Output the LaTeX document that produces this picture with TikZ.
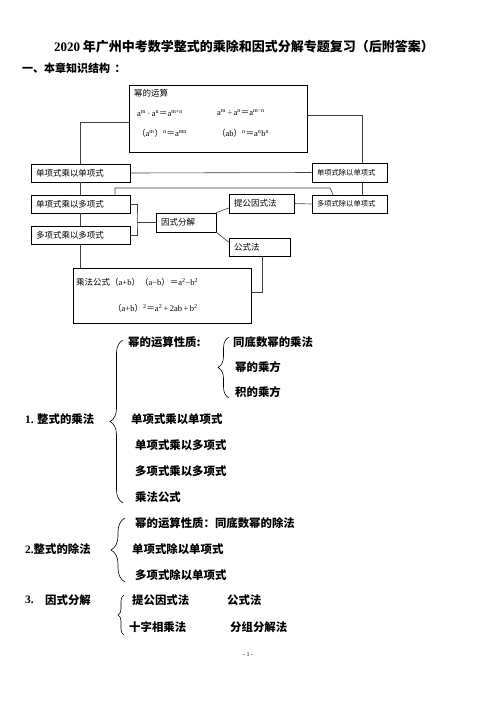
\documentclass[tikz,border=0pt]{standalone}
\usepackage{fontspec}
\setmainfont{Liberation Serif}
\newfontfamily\cjk{Noto Sans CJK SC}
\usetikzlibrary{decorations.pathreplacing}
\begin{document}
\begin{tikzpicture}[x=1pt,y=-1pt,
  bx/.style={draw=black,line width=0.7pt,inner xsep=5pt,inner ysep=0pt,align=left,font=\cjk\fontsize{8.5}{10}\selectfont,anchor=center},
  bxs/.style={bx,font=\cjk\fontsize{7.3}{9}\selectfont},
  bigbox/.style={draw=black,line width=0.7pt,inner sep=0pt,anchor=center},
  ln/.style={line width=0.6pt,black!75},
  ft/.style={anchor=west,inner sep=0pt,font=\fontsize{8.5}{10}\selectfont},
  ftc/.style={anchor=west,inner sep=0pt,font=\cjk\fontsize{8.5}{10}\selectfont},
  lt/.style={anchor=west,inner sep=0pt,font=\cjk\bfseries\fontsize{11.4}{13}\selectfont},
  br/.style={decorate,decoration={brace,amplitude=#1},line width=0.6pt}]
\path[use as bounding box,fill=white] (0,0) rectangle (496,702);

% title
\node[inner sep=0pt,font=\fontsize{13}{15}\selectfont] (title) at (244,47)
  {\textbf{2020}{\cjk\bfseries\ 年广州中考数学整式的乘除和因式分解专题复习（后附答案）}};
\node[anchor=west,inner sep=0pt,font=\cjk\bfseries\fontsize{11}{13}\selectfont] (head) at (22,68) {一、本章知识结构\hspace{0.4em}：};

% boxes
\node[bigbox,minimum width=178pt,minimum height=67pt] (T) at (218,118.5) {};
\node[ftc] (t0) at (134,93) {幂的运算};
\node[ft] (f1) at (137,113) {a\textsuperscript{m}\,·\,a\textsuperscript{n}{\cjk ＝}a\textsuperscript{m+n}};
\node[ft] (f2) at (217,113) {a\textsuperscript{m}\,÷\,a\textsuperscript{n}{\cjk ＝}a\textsuperscript{m−n}};
\node[ft] (f3) at (137,133) {{\cjk （}a\textsuperscript{m}{\cjk ）}\textsuperscript{n}{\cjk ＝}a\textsuperscript{mn}};
\node[ft] (f4) at (217,133) {{\cjk （}ab{\cjk ）}\textsuperscript{n}{\cjk ＝}a\textsuperscript{n}b\textsuperscript{n}};

\node[bx,text width=89pt,minimum height=18pt] (A) at (80.5,173) {单项式乘以单项式};
\node[bx,text width=89pt,minimum height=18pt] (B) at (80.5,204) {单项式乘以多项式};
\node[bx,text width=89pt,minimum height=18pt] (C) at (80.5,235) {多项式乘以多项式};
\node[bx,text width=50pt,minimum height=19pt] (F) at (186,222.5) {因式分解};
\node[bx,text width=55pt,minimum height=19pt] (G) at (261.5,203.5) {提公因式法};
\node[bx,text width=51pt,minimum height=18pt] (H) at (259.5,247) {公式法};
\node[bxs,text width=65pt,minimum height=19pt] (D1) at (349.5,172.5) {单项式除以单项式};
\node[bxs,text width=65pt,minimum height=18pt] (D2) at (349.5,204) {多项式除以单项式};

\node[bigbox,minimum width=178pt,minimum height=55pt] (M) at (162,295.5) {};
\node[ft] (g1) at (76,282) {{\cjk 乘法公式（}a+b{\cjk ）（}a−b{\cjk ）＝}a\textsuperscript{2}−b\textsuperscript{2}};
\node[ft] (g2) at (113,308) {{\cjk （}a+b{\cjk ）}\textsuperscript{2}{\cjk ＝}a\textsuperscript{2}\,+\,2ab\,+\,b\textsuperscript{2}};

% connectors
\draw[ln] ([yshift=-3.5pt]T.west) -| (A.north);
\draw[ln] (A.south) -- (B.north);
\draw[ln] (B.south) -- (C.north);
\draw[ln] (C.south) -- (C.south |- M.north);
\draw[ln] ([yshift=3.5pt]T.east) -| ([xshift=12.5pt]D1.north);
\draw[ln] ([xshift=12.5pt]D1.south) -- ([xshift=12.5pt]D2.north);
\draw[ln] (A.east) -- (D1.west);
\coordinate (k1) at (330,188);
\draw[ln] ([xshift=34.5pt]B.north) |- (k1) -- ([xshift=-16.5pt]D2.north);
\coordinate (j) at (137,222.5);
\draw[ln] (B.east) -| (j) |- (C.east);
\draw[ln] (j) -- (F.west);
\draw[line width=1.2pt] (F.north east) -- (F.south east);
\draw[ln] (F.north east) -- ([yshift=-4.5pt]G.west);
\draw[ln] (F.south east) -- ([yshift=5pt]H.west);
\draw[ln] (G.east) -- (D2.west);
\draw[ln] ([xshift=2.5pt]H.south) |- ([yshift=3.5pt]M.east);

% lower part
\node[lt] (l1) at (128,342) {幂的运算性质:};
\node[lt] (l2) at (233,342) {同底数幂的乘法};
\node[lt] (l3) at (235,367) {幂的乘方};
\node[lt] (l4) at (235,392) {积的乘方};
\node[lt] (l5) at (25,419) {{\fontspec{Liberation Serif}1.} 整式的乘法};
\node[lt] (l6) at (131,419) {单项式乘以单项式};
\node[lt] (l7) at (135,445) {单项式乘以多项式};
\node[lt] (l8) at (135,471) {多项式乘以多项式};
\node[lt] (l9) at (135,497) {乘法公式};
\draw[br=13pt] (123,503) -- (123,340);
\draw[br=11pt] (229,398) -- (229,337);

\node[lt] (m1) at (135,523) {幂的运算性质：同底数幂的除法};
\node[lt] (m2) at (25,549) {{\fontspec{Liberation Serif}2.}整式的除法};
\node[lt] (m3) at (132,549) {单项式除以单项式};
\node[lt] (m4) at (135,575) {多项式除以单项式};
\draw[br=14pt] (125,582) -- (125,518);

\node[lt] (n0) at (25,600) {\fontspec{Liberation Serif}3.};
\node[lt] (n1) at (45,600) {因式分解};
\node[lt] (n2) at (132,600) {提公因式法};
\node[lt] (n3) at (227,600) {公式法};
\node[lt] (n4) at (129,627) {十字相乘法};
\node[lt] (n5) at (230,627) {分组分解法};
\draw[br=6pt] (124,635) -- (124,595);

\node[inner sep=0pt,font=\fontsize{6}{7}\selectfont] (pg) at (248,655) {- 1 -};
\end{tikzpicture}
\end{document}
